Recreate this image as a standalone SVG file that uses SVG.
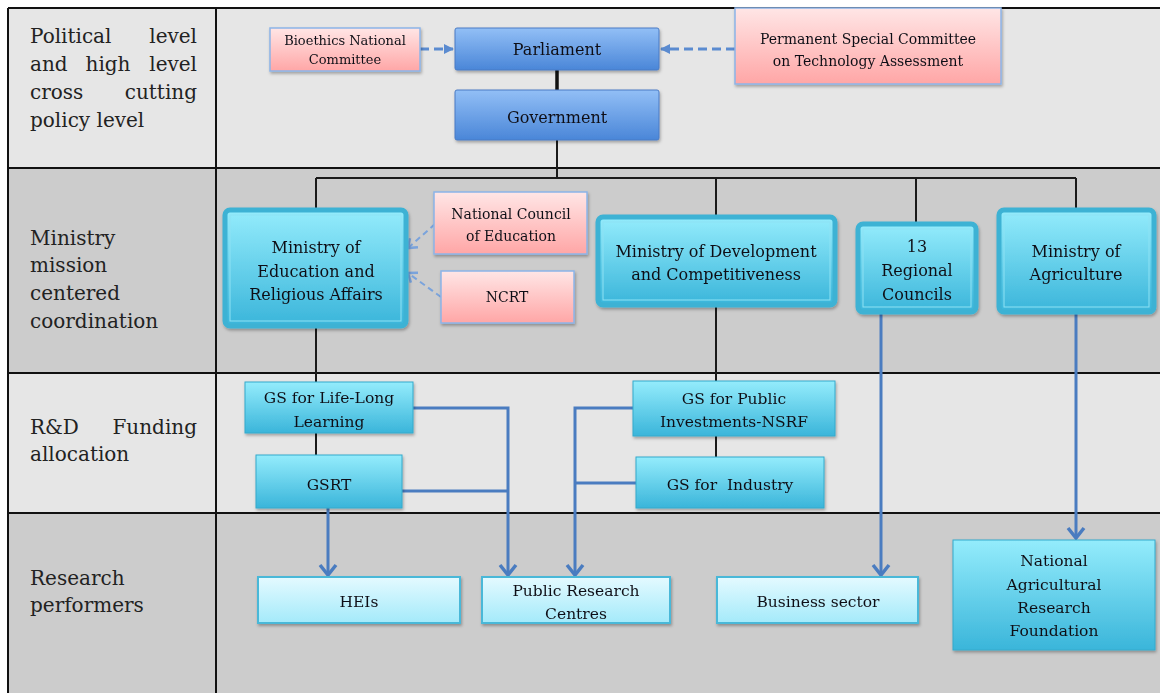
<svg xmlns="http://www.w3.org/2000/svg" width="1160" height="693" viewBox="0 0 1160 693">
<style>
.lbl{font-family:"DejaVu Serif","Liberation Serif",serif;font-size:20px;fill:#222}
.t{font-family:"DejaVu Serif","Liberation Serif",serif;fill:#111118;text-anchor:middle}
.s13{font-size:13px}
.s14{font-size:14px}
.s15{font-size:15.5px}
.s16{font-size:16px}
.grid{stroke:#111;stroke-width:2;fill:none}
.blk{stroke:#1a1a1a;stroke-width:2;fill:none}
.blk3{stroke:#111;stroke-width:3.5;fill:none}
.blu{stroke:#4a7cc0;stroke-width:3;fill:none}
.dsh{stroke:#5b8bd0;stroke-width:3;fill:none;stroke-dasharray:9 5}
.dshl{stroke:#7aa3dc;stroke-width:2;fill:none;stroke-dasharray:6 4}
.bluebox{fill:url(#gBlue);stroke:#4a7bc4;stroke-width:1}
.pink{fill:url(#gPink);stroke:#8cb4e8;stroke-width:1.5}
.cyan{fill:url(#gCyan);stroke:#35aacc;stroke-width:1}
.min{fill:url(#gCyan);stroke:#3cb2d4;stroke-width:5}
.mini{fill:none;stroke:#8ee2f4;stroke-width:1}
.light{fill:url(#gLight);stroke:#4ab8d8;stroke-width:2}
</style>
<defs>
<linearGradient id="gBlue" x1="0" y1="0" x2="0" y2="1"><stop offset="0" stop-color="#92bff6"/><stop offset="1" stop-color="#4a86d8"/></linearGradient>
<linearGradient id="gPink" x1="0" y1="0" x2="0" y2="1"><stop offset="0" stop-color="#ffe6e6"/><stop offset="1" stop-color="#ffa6a6"/></linearGradient>
<linearGradient id="gCyan" x1="0" y1="0" x2="0" y2="1"><stop offset="0" stop-color="#94ecfc"/><stop offset="1" stop-color="#3ab5da"/></linearGradient>
<linearGradient id="gLight" x1="0" y1="0" x2="0" y2="1"><stop offset="0" stop-color="#e4faff"/><stop offset="1" stop-color="#a4eafa"/></linearGradient>
<filter id="sh" x="-10%" y="-10%" width="130%" height="140%"><feDropShadow dx="1" dy="2" stdDeviation="1.5" flood-color="#000" flood-opacity="0.3"/></filter>
<marker id="ah" viewBox="0 0 14 20" refX="12" refY="10" markerWidth="14" markerHeight="20" markerUnits="userSpaceOnUse" orient="auto"><path d="M2,2 L12,10 L2,18" fill="none" stroke="#4a7cc0" stroke-width="3.5"/></marker>
<marker id="ahl" viewBox="0 0 12 16" refX="10" refY="8" markerWidth="12" markerHeight="16" markerUnits="userSpaceOnUse" orient="auto"><path d="M2,2 L10,8 L2,14" fill="none" stroke="#7aa3dc" stroke-width="2.5"/></marker>
<marker id="tri" viewBox="0 0 10 10" refX="9" refY="5" markerWidth="10" markerHeight="10" markerUnits="userSpaceOnUse" orient="auto"><path d="M0,0 L10,5 L0,10 z" fill="#5b8bd0"/></marker>
</defs>

<g id="table">
<rect x="0" y="0" width="1160" height="693" fill="#ffffff"/>
<rect x="8" y="8" width="1152" height="160" fill="#e6e6e6"/>
<rect x="8" y="168" width="1152" height="205" fill="#cccccc"/>
<rect x="8" y="373" width="1152" height="140" fill="#e6e6e6"/>
<rect x="8" y="513" width="1152" height="180" fill="#cccccc"/>
<path class="grid" d="M8,8 H1160 M8,168 H1160 M8,373 H1160 M8,513 H1160 M8,8 V693 M216,8 V693"/>
<text class="lbl" x="30" y="43">Political</text><text class="lbl" x="197" y="43" text-anchor="end">level</text>
<text class="lbl" x="30" y="71">and</text><text class="lbl" x="108" y="71" text-anchor="middle">high</text><text class="lbl" x="197" y="71" text-anchor="end">level</text>
<text class="lbl" x="30" y="99">cross</text><text class="lbl" x="197" y="99" text-anchor="end">cutting</text>
<text class="lbl" x="30" y="127">policy level</text>
<text class="lbl" x="30" y="245">Ministry</text>
<text class="lbl" x="30" y="272">mission</text>
<text class="lbl" x="30" y="300">centered</text>
<text class="lbl" x="30" y="328">coordination</text>
<text class="lbl" x="30" y="434">R&amp;D</text><text class="lbl" x="197" y="434" text-anchor="end">Funding</text>
<text class="lbl" x="30" y="461">allocation</text>
<text class="lbl" x="30" y="585">Research</text>
<text class="lbl" x="30" y="612">performers</text>
</g>

<g id="connectors">
<path class="dsh" d="M420,49 H453" marker-end="url(#tri)"/>
<path class="dsh" d="M735,49 H661" marker-end="url(#tri)"/>
<path class="blk3" d="M557,70 V90"/>
<path class="blk" d="M557,140 V178 M316,178 H1076 M316,178 V208 M716,178 V215 M916,178 V222 M1076,178 V208"/>
<path class="dshl" d="M435,224 L408,248" marker-end="url(#ahl)"/>
<path class="dshl" d="M441,297 L408,273" marker-end="url(#ahl)"/>
<path class="blk" d="M316,328 V382 M316,433 V455"/>
<path class="blk" d="M716,307 V381 M716,436 V457"/>
<path class="blu" d="M413,408 H508 V575" marker-end="url(#ah)"/>
<path class="blu" d="M402,491 H508"/>
<path class="blu" d="M633,408 H575 V575" marker-end="url(#ah)"/>
<path class="blu" d="M636,483 H575"/>
<path class="blu" d="M328,508 V575" marker-end="url(#ah)"/>
<path class="blu" d="M881,313 V575" marker-end="url(#ah)"/>
<path class="blu" d="M1076,313 V538" marker-end="url(#ah)"/>
</g>

<g id="bioethics" filter="url(#sh)">
<rect class="pink" x="270" y="28" width="150" height="43"/>
<text class="t s13" x="345" y="45">Bioethics National</text>
<text class="t s13" x="345" y="64">Committee</text>
</g>
<g id="parliament" filter="url(#sh)">
<rect class="bluebox" x="455" y="28" width="204" height="42" rx="2"/>
<text class="t s16" x="557" y="55">Parliament</text>
</g>
<g id="government" filter="url(#sh)">
<rect class="bluebox" x="455" y="90" width="204" height="50" rx="2"/>
<text class="t s16" x="557" y="123">Government</text>
</g>
<g id="permanent-committee" filter="url(#sh)">
<rect class="pink" x="735" y="8" width="266" height="76"/>
<text class="t s14" x="868" y="44">Permanent Special Committee</text>
<text class="t s14" x="868" y="66">on Technology Assessment</text>
</g>

<g id="min-education" filter="url(#sh)">
<rect class="min" x="225" y="210" width="181" height="116" rx="5"/>
<rect class="mini" x="230" y="215" width="171" height="106"/>
<text class="t s16" x="316" y="253">Ministry of</text>
<text class="t s16" x="316" y="277">Education and</text>
<text class="t s16" x="316" y="300">Religious Affairs</text>
</g>
<g id="nce" filter="url(#sh)">
<rect class="pink" x="434" y="192" width="153" height="62"/>
<text class="t s14" x="511" y="219">National Council</text>
<text class="t s14" x="511" y="241">of Education</text>
</g>
<g id="ncrt" filter="url(#sh)">
<rect class="pink" x="441" y="271" width="133" height="52"/>
<text class="t s14" x="507" y="302">NCRT</text>
</g>
<g id="min-development" filter="url(#sh)">
<rect class="min" x="598" y="217" width="237" height="88" rx="5"/>
<rect class="mini" x="603" y="222" width="227" height="78"/>
<text class="t s16" x="716" y="257">Ministry of Development</text>
<text class="t s16" x="716" y="280">and Competitiveness</text>
</g>
<g id="regional-councils" filter="url(#sh)">
<rect class="min" x="858" y="224" width="118" height="88" rx="5"/>
<rect class="mini" x="863" y="229" width="108" height="78"/>
<text class="t s16" x="917" y="252">13</text>
<text class="t s16" x="917" y="276">Regional</text>
<text class="t s16" x="917" y="300">Councils</text>
</g>
<g id="min-agriculture" filter="url(#sh)">
<rect class="min" x="999" y="210" width="155" height="102" rx="5"/>
<rect class="mini" x="1004" y="215" width="145" height="92"/>
<text class="t s16" x="1076" y="257">Ministry of</text>
<text class="t s16" x="1076" y="280">Agriculture</text>
</g>

<g id="gs-lifelong" filter="url(#sh)">
<rect class="cyan" x="245" y="382" width="168" height="51"/>
<text class="t s15" x="329" y="403">GS for Life-Long</text>
<text class="t s15" x="329" y="427">Learning</text>
</g>
<g id="gsrt" filter="url(#sh)">
<rect class="cyan" x="256" y="455" width="146" height="53"/>
<text class="t s15" x="329" y="490">GSRT</text>
</g>
<g id="gs-public" filter="url(#sh)">
<rect class="cyan" x="633" y="381" width="202" height="55"/>
<text class="t s15" x="734" y="404">GS for Public</text>
<text class="t s15" x="734" y="427">Investments-NSRF</text>
</g>
<g id="gs-industry" filter="url(#sh)">
<rect class="cyan" x="636" y="457" width="188" height="51"/>
<text class="t s15" x="730" y="490" xml:space="preserve">GS for  Industry</text>
</g>

<g id="heis" filter="url(#sh)">
<rect class="light" x="258" y="577" width="202" height="46"/>
<text class="t s15" x="359" y="607">HEIs</text>
</g>
<g id="prc" filter="url(#sh)">
<rect class="light" x="482" y="577" width="188" height="46"/>
<text class="t s15" x="576" y="596">Public Research</text>
<text class="t s15" x="576" y="619">Centres</text>
</g>
<g id="business" filter="url(#sh)">
<rect class="light" x="717" y="577" width="201" height="46"/>
<text class="t s15" x="818" y="607">Business sector</text>
</g>
<g id="narf" filter="url(#sh)">
<rect class="cyan" x="953" y="540" width="202" height="110"/>
<text class="t s15" x="1054" y="566">National</text>
<text class="t s15" x="1054" y="590">Agricultural</text>
<text class="t s15" x="1054" y="613">Research</text>
<text class="t s15" x="1054" y="636">Foundation</text>
</g>
</svg>
